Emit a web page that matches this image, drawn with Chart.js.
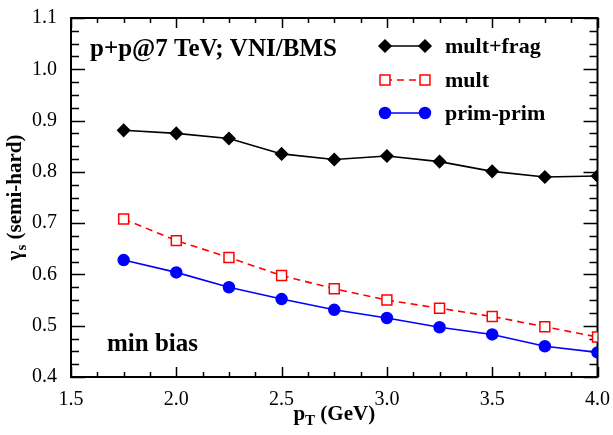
<!DOCTYPE html>
<html>
<head>
<meta charset="utf-8">
<script src="https://cdn.jsdelivr.net/npm/chart.js@4.4.0/dist/chart.umd.min.js"></script>
<style>
  html, body { margin: 0; padding: 0; background: #ffffff; }
  #wrap { width: 613px; height: 435px; }
</style>
</head>
<body>
<div id="wrap"><canvas id="c" width="613" height="435"></canvas></div>
<script>
// ---- data ----
const pT = [1.75, 2.0, 2.25, 2.5, 2.75, 3.0, 3.25, 3.5, 3.75, 4.0];
const multFrag = [0.881, 0.875, 0.865, 0.835, 0.824, 0.831, 0.820, 0.801, 0.790, 0.792];
const mult     = [0.708, 0.666, 0.633, 0.598, 0.572, 0.550, 0.534, 0.518, 0.498, 0.478];
const primPrim = [0.628, 0.604, 0.575, 0.552, 0.531, 0.515, 0.497, 0.483, 0.460, 0.448];
const seriesNames = ['mult+frag', 'mult', 'prim-prim'];
const xTickLabels = [1.5, 2.0, 2.5, 3.0, 3.5, 4.0];
const yTickLabels = [0.4, 0.5, 0.6, 0.7, 0.8, 0.9, 1.0, 1.1];
const xMinorStep = 0.125;
const yMinorStep = 0.025;

const SERIF = '"Liberation Serif", "Times New Roman", serif';

function pts(ys) { return pT.map((x, i) => ({ x: x, y: ys[i] })); }

const styles = [
  { color: '#000000', fill: '#000000', pointStyle: 'rectRot', radius: 6, dash: [] },
  { color: '#ff0000', fill: '#ffffff', pointStyle: 'rect', radius: 7, dash: [7, 5] },
  { color: '#0000ff', fill: '#0000ff', pointStyle: 'circle', radius: 5.5, dash: [] }
];
const seriesValues = [multFrag, mult, primPrim];

const datasets = seriesValues.map((vals, i) => ({
  label: seriesNames[i],
  data: pts(vals),
  borderColor: styles[i].color,
  backgroundColor: styles[i].fill,
  pointBackgroundColor: styles[i].fill,
  pointBorderColor: styles[i].color,
  pointStyle: styles[i].pointStyle,
  pointRadius: styles[i].radius,
  pointBorderWidth: 1.5,
  borderWidth: 1.6,
  borderDash: styles[i].dash,
  tension: 0,
  fill: false
}));

function drawMarker(ctx, style, x, y) {
  ctx.save();
  ctx.setLineDash([]);
  ctx.fillStyle = style.fill;
  ctx.strokeStyle = style.color;
  ctx.lineWidth = 1.5;
  ctx.beginPath();
  const r = style.radius;
  if (style.pointStyle === 'rectRot') {
    ctx.moveTo(x, y - r); ctx.lineTo(x + r, y); ctx.lineTo(x, y + r); ctx.lineTo(x - r, y); ctx.closePath();
  } else if (style.pointStyle === 'rect') {
    const s = r * Math.SQRT1_2;
    ctx.rect(x - s, y - s, 2 * s, 2 * s);
  } else {
    ctx.arc(x, y, r, 0, Math.PI * 2);
  }
  ctx.fill(); ctx.stroke();
  ctx.restore();
}

const framePlugin = {
  id: 'framePlugin',
  beforeDatasetsDraw(chart) {
    const ctx = chart.ctx, a = chart.chartArea;
    const xs = chart.scales.x, ys = chart.scales.y;
    ctx.save();
    ctx.strokeStyle = '#000';
    ctx.lineWidth = 1.5;
    const nx = Math.round((xs.max - xs.min) / xMinorStep);
    for (let i = 0; i <= nx; i++) {
      const v = xs.min + i * xMinorStep;
      const px = Math.round(xs.getPixelForValue(v)) + 0.5;
      const major = xTickLabels.some(t => Math.abs(t - v) < 1e-6);
      const len = major ? 10 : 5;
      ctx.beginPath();
      ctx.moveTo(px, a.bottom); ctx.lineTo(px, a.bottom - len);
      ctx.moveTo(px, a.top); ctx.lineTo(px, a.top + len);
      ctx.stroke();
    }
    const ny = Math.round((ys.max - ys.min) / yMinorStep);
    for (let i = 0; i <= ny; i++) {
      const v = ys.min + i * yMinorStep;
      const py = Math.round(ys.getPixelForValue(v)) + 0.5;
      const major = yTickLabels.some(t => Math.abs(t - v) < 1e-6);
      const len = major ? 14 : 8;
      ctx.beginPath();
      ctx.moveTo(a.left, py); ctx.lineTo(a.left + len, py);
      ctx.moveTo(a.right, py); ctx.lineTo(a.right - len, py);
      ctx.stroke();
    }
    ctx.lineWidth = 2;
    ctx.strokeRect(a.left, a.top, a.right - a.left, a.bottom - a.top);
    ctx.restore();
  },
  afterDraw(chart) {
    const ctx = chart.ctx, a = chart.chartArea;
    ctx.save();
    ctx.fillStyle = '#000';
    ctx.textBaseline = 'alphabetic';
    ctx.textAlign = 'left';
    // annotations
    ctx.font = 'bold 25px ' + SERIF;
    ctx.fillText('p+p@7 TeV; VNI/BMS', a.left + 19, a.top + 38);
    ctx.fillText('min bias', a.left + 36, a.top + 333);
    // legend
    const rowsY = [46, 80, 113];
    for (let i = 0; i < 3; i++) {
      const y = rowsY[i];
      const x0 = a.left + 314, x1 = a.left + 354;
      ctx.save();
      ctx.strokeStyle = styles[i].color;
      ctx.lineWidth = 1.6;
      ctx.setLineDash(styles[i].dash);
      ctx.beginPath(); ctx.moveTo(x0, y); ctx.lineTo(x1, y); ctx.stroke();
      ctx.restore();
      drawMarker(ctx, styles[i], x0, y);
      drawMarker(ctx, styles[i], x1, y);
      ctx.font = 'bold 22px ' + SERIF;
      ctx.fillStyle = '#000';
      ctx.fillText(seriesNames[i], a.left + 374, y + 7);
    }
    // x axis title with subscript
    const big = 'bold 21px ' + SERIF, small = 'bold 15px ' + SERIF;
    ctx.font = big; const w1 = ctx.measureText('p').width;
    ctx.font = small; const w2 = ctx.measureText('T').width;
    ctx.font = big; const w3 = ctx.measureText(' (GeV)').width;
    let x = (a.left + a.right) / 2 - (w1 + w2 + w3) / 2;
    const by = 420;
    ctx.font = big; ctx.fillText('p', x, by); x += w1;
    ctx.font = small; ctx.fillText('T', x, by + 5); x += w2;
    ctx.font = big; ctx.fillText(' (GeV)', x, by);
    // y axis title, rotated
    ctx.save();
    ctx.translate(21, (a.top + a.bottom) / 2);
    ctx.rotate(-Math.PI / 2);
    ctx.font = big; const g1 = ctx.measureText('γ').width;
    ctx.font = small; const g2 = ctx.measureText('s').width;
    ctx.font = big; const g3 = ctx.measureText(' (semi-hard)').width;
    let gx = -(g1 + g2 + g3) / 2;
    ctx.font = big; ctx.fillText('γ', gx, 0); gx += g1;
    ctx.font = small; ctx.fillText('s', gx, 5); gx += g2;
    ctx.font = big; ctx.fillText(' (semi-hard)', gx, 0);
    ctx.restore();
    ctx.restore();
  }
};

new Chart(document.getElementById('c'), {
  type: 'line',
  data: { datasets: datasets },
  options: {
    responsive: false,
    animation: false,
    layout: { padding: { top: 10, right: 15, left: 0, bottom: 0 } },
    plugins: { legend: { display: false }, tooltip: { enabled: false } },
    scales: {
      x: {
        type: 'linear', min: 1.5, max: 4.0,
        grid: { display: false }, border: { display: false },
        afterBuildTicks: s => { s.ticks = xTickLabels.map(v => ({ value: v })); },
        afterFit: s => { s.height = 58; },
        ticks: { color: '#000', padding: 3, font: { family: SERIF, size: 20 },
                 callback: v => Number(v).toFixed(1), maxRotation: 0 }
      },
      y: {
        type: 'linear', min: 0.4, max: 1.1,
        grid: { display: false }, border: { display: false },
        afterBuildTicks: s => { s.ticks = yTickLabels.map(v => ({ value: v })); },
        afterFit: s => { s.width = 71; },
        ticks: { color: '#000', padding: 6, font: { family: SERIF, size: 20 },
                 callback: v => Number(v).toFixed(1) }
      }
    }
  },
  plugins: [framePlugin]
});
</script>
</body>
</html>
